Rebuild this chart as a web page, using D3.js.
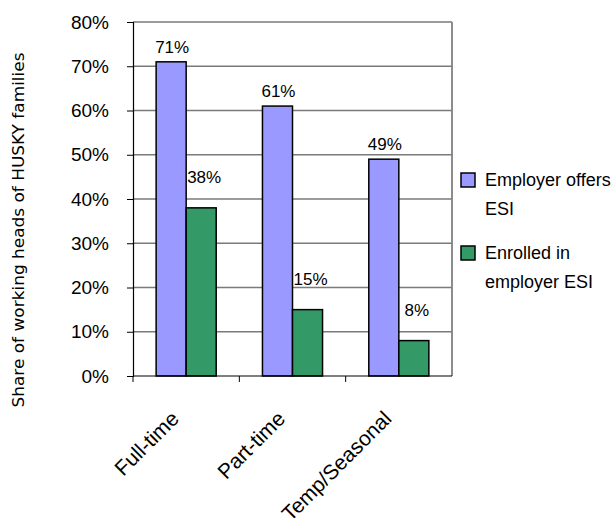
<!DOCTYPE html>
<html>
<head>
<meta charset="utf-8">
<script src="https://cdn.jsdelivr.net/npm/d3@7"></script>
<style>
  body { margin: 0; background: #fff; }
  svg { display: block; }
  text { font-family: "Liberation Sans", Arial, sans-serif; fill: #000; }
</style>
</head>
<body>
<div id="chart"></div>
<script>
// Data
const categories = ['Full-time', 'Part-time', 'Temp/Seasonal'];
const seriesNames = ['Employer offers ESI', 'Enrolled in employer ESI'];
const offersESI = [0.71, 0.61, 0.49];
const enrolledESI = [0.38, 0.15, 0.08];
const yTicks = [0, 0.1, 0.2, 0.3, 0.4, 0.5, 0.6, 0.7, 0.8];
const legendLines = [['Employer offers', 'ESI'], ['Enrolled in', 'employer ESI']];

const colors = ['#9999ff', '#339966'];

const width = 613, height = 518;
const margin = { top: 22, right: 161, bottom: 142, left: 133 };
const innerWidth = width - margin.left - margin.right;
const innerHeight = height - margin.top - margin.bottom;

const svg = d3.select('#chart')
  .append('svg')
  .attr('width', width)
  .attr('height', height);

const g = svg.append('g')
  .attr('transform', `translate(${margin.left},${margin.top})`);

// Scales
const x0 = d3.scaleBand()
  .domain(categories)
  .range([0, innerWidth])
  .padding(0);

const x1 = d3.scaleBand()
  .domain(seriesNames)
  .range([0, x0.bandwidth()])
  .paddingInner(0)
  .paddingOuter(0.77);

const y = d3.scaleLinear()
  .domain([0, 0.8])
  .range([innerHeight, 0]);

// Grid lines
g.selectAll('.grid-line')
  .data(yTicks.slice(1))
  .enter()
  .append('line')
  .attr('x1', 0)
  .attr('x2', innerWidth)
  .attr('y1', d => y(d))
  .attr('y2', d => y(d))
  .attr('stroke', '#7a7a7a')
  .attr('stroke-width', 1.3);

// right border of plot area
g.append('line')
  .attr('x1', innerWidth)
  .attr('x2', innerWidth)
  .attr('y1', 0)
  .attr('y2', innerHeight)
  .attr('stroke', '#808080')
  .attr('stroke-width', 1.8);

// Bars
const rows = categories.map((c, i) => ({ cat: c, values: [offersESI[i], enrolledESI[i]] }));

const groups = g.selectAll('.group')
  .data(rows)
  .enter()
  .append('g')
  .attr('transform', d => `translate(${x0(d.cat)},0)`);

groups.selectAll('rect')
  .data(d => d.values.map((v, j) => ({ series: seriesNames[j], v, j })))
  .enter()
  .append('rect')
  .attr('x', d => x1(d.series))
  .attr('y', d => y(d.v))
  .attr('width', x1.bandwidth())
  .attr('height', d => innerHeight - y(d.v))
  .attr('fill', d => colors[d.j])
  .attr('stroke', '#000')
  .attr('stroke-width', 1.5);

// Value labels
const labelLift = [9, 25];
const labelShift = [1, 3];
groups.selectAll('.val')
  .data(d => d.values.map((v, j) => ({ series: seriesNames[j], v, j })))
  .enter()
  .append('text')
  .attr('class', 'val')
  .attr('x', d => x1(d.series) + x1.bandwidth() / 2 + labelShift[d.j])
  .attr('y', d => y(d.v) - labelLift[d.j])
  .attr('text-anchor', 'middle')
  .attr('font-size', '17px')
  .text(d => `${Math.round(d.v * 100)}%`);

// Y axis
const yAxis = g.append('g')
  .call(d3.axisLeft(y).tickValues(yTicks).tickFormat(d3.format('.0%')).tickSize(6).tickPadding(18));

yAxis.select('.domain').attr('stroke', '#000').attr('stroke-width', 1.2);
yAxis.selectAll('line').attr('stroke', '#000');
yAxis.selectAll('text')
  .attr('font-size', '19px')
  .attr('font-family', '"Liberation Sans", Arial, sans-serif')
  .attr('fill', '#000');

// X axis with ticks at category boundaries
const xAxis = g.append('g')
  .attr('transform', `translate(0,${innerHeight})`);

xAxis.append('line')
  .attr('x1', 0)
  .attr('x2', innerWidth)
  .attr('stroke', '#000')
  .attr('stroke-width', 1.2);

xAxis.selectAll('.xtick')
  .data(categories)
  .enter()
  .append('line')
  .attr('x1', d => x0(d))
  .attr('x2', d => x0(d))
  .attr('y1', 0)
  .attr('y2', 6)
  .attr('stroke', '#000');

xAxis.selectAll('.xlabel')
  .data(categories)
  .enter()
  .append('text')
  .attr('text-anchor', 'end')
  .attr('font-size', '21px')
  .attr('transform', d => `translate(${x0(d) + x0.bandwidth() / 2 - 6},${44}) rotate(-45)`)
  .text(d => d);

// Y axis title
svg.append('text')
  .attr('transform', 'translate(24,230) rotate(-90)')
  .attr('text-anchor', 'middle')
  .style('font-family', '"DejaVu Sans", sans-serif')
  .attr('font-size', '16.5px')
  .attr('textLength', 355)
  .attr('lengthAdjust', 'spacingAndGlyphs')
  .text('Share of working heads of HUSKY families');

// Legend
const legend = svg.append('g')
  .attr('transform', 'translate(461,173)');

seriesNames.forEach((name, i) => {
  const item = legend.append('g')
    .attr('transform', `translate(0,${i * 73})`);

  item.append('rect')
    .attr('width', 14)
    .attr('height', 14)
    .attr('fill', colors[i])
    .attr('stroke', '#000')
    .attr('stroke-width', 1.5);

  legendLines[i].forEach((line, k) => {
    item.append('text')
      .attr('x', 24)
      .attr('y', 13 + k * 29)
      .attr('font-size', '18px')
      .text(line);
  });
});
</script>
</body>
</html>
